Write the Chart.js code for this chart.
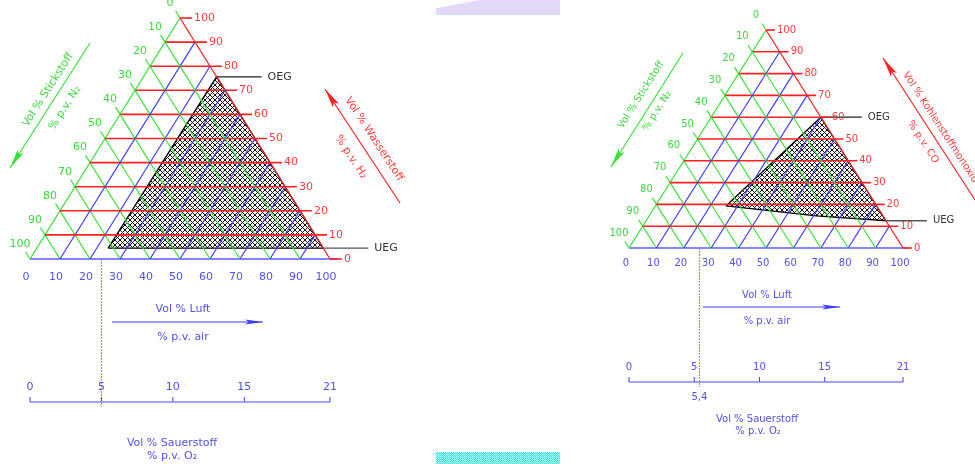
<!DOCTYPE html>
<html>
<head>
<meta charset="utf-8">
<script src="https://cdn.jsdelivr.net/npm/chart.js@4.4.1/dist/chart.umd.min.js"></script>
<style>
  html, body { margin: 0; padding: 0; background: #fff; }
  body { width: 975px; height: 464px; position: relative; overflow: hidden; }
  canvas { position: absolute; top: 0; }
  #links { left: 0; }
  #rechts { left: 487px; }
  .fleck { position: absolute; z-index: 2; }
  #fleckOben { left: 436px; top: 0; width: 124px; height: 15px;
    background: repeating-conic-gradient(#f0c4f4 0 25%, #d6ecfa 0 50%) 0 0/2px 2px;
    clip-path: polygon(0 55%, 35% 0, 100% 0, 100% 100%, 0 100%); }
  #fleckUnten { left: 436px; top: 452px; width: 124px; height: 12px;
    background: repeating-conic-gradient(#2ee8e2 0 25%, #c0fbf4 0 50%) 0 0/2px 2px; }
</style>
</head>
<body>
<canvas id="links" width="487" height="464"></canvas>
<canvas id="rechts" width="488" height="464"></canvas>
<div class="fleck" id="fleckOben"></div>
<div class="fleck" id="fleckUnten"></div>
<script>
// Teilung der drei Dreiecksachsen (Vol %)
const achsTicks = [0, 10, 20, 30, 40, 50, 60, 70, 80, 90, 100];
const achsLabels = ['0', '10', '20', '30', '40', '50', '60', '70', '80', '90', '100'];

// Sauerstoffskala unter dem Dreieck (Vol % O2, 21 % = 100 % Luft)
const o2Ticks = [0, 5, 10, 15, 21];
const o2Labels = ['0', '5', '10', '15', '21'];

// Explosionsbereich Wasserstoff: Luft- und H2-Anteil der Eckpunkte
const h2Luft = [23.8, 95.5, 24.4];
const h2Gas = [4.5, 4.5, 75.6];
const h2O2Grenze = 5;

// Explosionsbereich Kohlenstoffmonoxid: Luft- und CO-Anteil der Eckpunkte
const coLuft = [25.7, 61, 87.5, 40];
const coGas = [19.3, 14.7, 12.5, 60];
const coO2Grenze = 5.4;

// Farben
const rotLinie = '#ff2020', gruenLinie = '#38e238', blauLinie = '#3c3cff', basisLinie = '#8484ff';
const rotText = '#ff3a3a', gruenText = '#3cd83c', blauText = '#5050ee';

// Luft / Brenngas -> x,y im Dreieck (x = Grundlinie 0..100, y = Gasanteil)
function tern(luft, gas) {
  return { x: luft + gas / 2, y: gas };
}

function linie(pts, farbe, breite, extra) {
  return Object.assign({
    data: pts, borderColor: farbe, borderWidth: breite, showLine: true,
    pointRadius: 0, fill: false, tension: 0, order: 1
  }, extra || {});
}

// Kreuzschraffur, pixelgenau
function schraffur() {
  const c = document.createElement('canvas');
  c.width = 5; c.height = 5;
  const g = c.getContext('2d');
  g.fillStyle = '#101010';
  for (let i = 0; i < 5; i++) {
    g.fillRect(i, i, 1, 1);
    g.fillRect(i, 4 - i, 1, 1);
  }
  return g.createPattern(c, 'repeat');
}

// Lage der beiden Diagramme auf der Seite
const layLinks = {
  left: 0, w: 487, h: 464, baseL: 30, baseR: 330, baseY: 259, apexY: 18, o2Y: 402,
  schrift: 11, baseDx: -4, baseDy: 18, rotDx: 14, rotExt: 12, egLen: 45,
  luft: h2Luft, gas: h2Gas, o2Grenze: h2O2Grenze, o2GrenzText: null, hilfslinien: false,
  pfeile: [
    { von: [90, 43], nach: [10, 168], farbe: gruenLinie, lang: 20, breit: 3.5 },
    { von: [400, 203], nach: [325, 89], farbe: rotLinie, lang: 20, breit: 3.5 },
    { von: [112, 322], nach: [263, 322], farbe: blauLinie, lang: 18, breit: 2.5 }
  ],
  texte: [
    { t: 'Vol % Stickstoff', x: 48, y: 90, f: gruenText, w: -57.4 },
    { t: '% p.v. N₂', x: 65, y: 108, f: gruenText, w: -57.4 },
    { t: 'Vol % Wasserstoff', x: 374, y: 139, f: rotText, w: 56.7 },
    { t: '% p.v. H₂', x: 351, y: 157, f: rotText, w: 56.7 },
    { t: 'Vol % Luft', x: 183, y: 309, f: blauText, w: 0 },
    { t: '% p.v. air', x: 183, y: 337, f: blauText, w: 0 },
    { t: 'Vol % Sauerstoff', x: 172, y: 443, f: blauText, w: 0 },
    { t: '% p.v. O₂', x: 172, y: 456, f: blauText, w: 0 }
  ]
};

const layRechts = {
  left: 487, w: 488, h: 464, baseL: 629, baseR: 903, baseY: 248, apexY: 30, o2Y: 382,
  schrift: 10, baseDx: -3, baseDy: 15, rotDx: 11, rotExt: 9, egLen: 41,
  luft: coLuft, gas: coGas, o2Grenze: coO2Grenze, o2GrenzText: '5,4', hilfslinien: true,
  pfeile: [
    { von: [683, 53], nach: [611, 167], farbe: gruenLinie, lang: 20, breit: 3.5 },
    { von: [975, 200], nach: [883, 58], farbe: rotLinie, lang: 20, breit: 3.5 },
    { von: [703, 307], nach: [840, 307], farbe: blauLinie, lang: 18, breit: 2.5 }
  ],
  texte: [
    { t: 'Vol % Stickstoff', x: 641, y: 95, f: gruenText, w: -57.7 },
    { t: '% p.v. N₂', x: 657, y: 111, f: gruenText, w: -57.7 },
    { t: 'Vol % Kohlenstoffmonoxid', x: 905, y: 73, f: rotText, w: 57, a: 'left' },
    { t: '% p.v. CO', x: 923, y: 142, f: rotText, w: 57 },
    { t: 'Vol % Luft', x: 767, y: 295, f: blauText, w: 0 },
    { t: '% p.v. air', x: 767, y: 321, f: blauText, w: 0 },
    { t: 'Vol % Sauerstoff', x: 757, y: 419, f: blauText, w: 0 },
    { t: '% p.v. O₂', x: 758, y: 431, f: blauText, w: 0 }
  ]
};

function diagramm(id, lay) {
  const kx = (lay.baseR - lay.baseL) / 100;
  const ky = (lay.baseY - lay.apexY) / 100;
  const xMin = -(lay.baseL - lay.left) / kx, xMax = xMin + lay.w / kx;
  const yMax = 100 + lay.apexY / ky, yMin = yMax - lay.h / ky;
  const o2Yd = yMax - lay.o2Y / ky;
  const ext = lay.rotExt / kx;
  const o2x = o2 => o2 / 21 * 100;

  const ds = [];
  // Explosionsbereich
  const bereich = lay.luft.map((l, i) => tern(l, lay.gas[i]));
  ds.push({
    data: bereich.concat([bereich[0]]), borderColor: '#000', borderWidth: 1.3,
    backgroundColor: schraffur(), fill: 'shape', showLine: true, pointRadius: 0, tension: 0, order: 5
  });

  // Hilfslinien durch den linken Eckpunkt
  if (lay.hilfslinien) {
    const n = 100 - lay.luft[0] - lay.gas[0];
    const opt = { borderDash: [2, 2], order: 3 };
    ds.push(linie([tern(0, 100 - n), tern(100 - n, 0)], '#cfcfcf', 1, opt));
    ds.push(linie([tern(lay.luft[0], 0), tern(lay.luft[0], 60)], '#cfcfcf', 1, opt));
  }

  achsTicks.forEach(v => {
    // Brenngas konstant (rot, waagerecht)
    const re = tern(100 - v, v);
    const st = (v > 0 && v < 100) ? tern(0, v) : re;
    ds.push(linie([st, { x: re.x + ext, y: v }], rotLinie, 1.6));
    // Stickstoff konstant (gruen)
    const aussen = tern(-3, 103 - v);
    const ende = (v > 0 && v < 100) ? tern(100 - v, 0) : tern(0, 100 - v);
    ds.push(linie([aussen, ende], gruenLinie, 1.2));
    // Luft konstant (blau)
    if (v > 0 && v < 100) ds.push(linie([tern(v, 0), tern(v, 100 - v)], blauLinie, 1.2));
  });
  ds.push(linie([tern(0, 0), tern(0, 100)], gruenLinie, 1.3));
  ds.push(linie([tern(0, 100), tern(100, 0)], rotLinie, 1.3));
  ds.push(linie([tern(0, 0), { x: 100 + ext * 0.6, y: 0 }], basisLinie, 2.2));

  // OEG / UEG
  const oben = bereich[bereich.length - 1], unten = bereich[bereich.length - 2];
  const egU = lay.egLen / kx;
  ds.push(linie([oben, { x: oben.x + egU, y: oben.y }], '#222', 1.2));
  ds.push(linie([unten, { x: unten.x + egU, y: unten.y }], '#555', 1.4));

  // Sauerstoffskala
  ds.push(linie([{ x: 0, y: o2Yd }, { x: 100, y: o2Yd }], basisLinie, 1.5));
  o2Ticks.forEach(o => {
    ds.push(linie([{ x: o2x(o), y: o2Yd }, { x: o2x(o), y: o2Yd + 5 / ky }], blauLinie, 1));
  });
  // Grenzlinie Sauerstoff
  const gx = o2x(lay.o2Grenze);
  ds.push(linie([{ x: gx, y: 0 }, { x: gx, y: o2Yd - 5 / ky }], '#a89a6a', 1.2, { borderDash: [2, 1], order: 2 }));

  const deko = {
    id: 'deko',
    afterDatasetsDraw(chart) {
      const { ctx, scales: { x, y } } = chart;
      const px = p => [x.getPixelForValue(p.x), y.getPixelForValue(p.y)];
      ctx.save();
      ctx.font = lay.schrift + 'px "DejaVu Sans"';
      ctx.textBaseline = 'middle';

      // Luft (Grundlinie)
      ctx.fillStyle = blauText; ctx.textAlign = 'center';
      achsTicks.forEach((v, i) => {
        const [X, Y] = px(tern(v, 0));
        ctx.fillText(achsLabels[i], X + lay.baseDx, Y + lay.baseDy);
      });
      // Brenngas (rechte Seite)
      ctx.fillStyle = rotText; ctx.textAlign = 'left';
      achsTicks.forEach((v, i) => {
        const [X, Y] = px(tern(100 - v, v));
        ctx.fillText(achsLabels[i], X + lay.rotDx, Y);
      });
      // Stickstoff (linke Seite)
      ctx.fillStyle = gruenText; ctx.textAlign = 'center';
      achsTicks.forEach((v, i) => {
        const [X, Y] = px(tern(0, 100 - v));
        ctx.fillText(achsLabels[i], X - 10, Y - 15);
      });
      // Sauerstoff
      ctx.fillStyle = blauText;
      o2Ticks.forEach((o, i) => {
        const [X, Y] = px({ x: o2x(o), y: o2Yd });
        ctx.fillText(o2Labels[i], X, Y - 15);
      });
      if (lay.o2GrenzText) {
        const [X, Y] = px({ x: gx, y: o2Yd });
        ctx.fillText(lay.o2GrenzText, X, Y + 15);
      }
      // OEG / UEG
      ctx.fillStyle = '#333'; ctx.textAlign = 'left';
      let [X, Y] = px(oben);
      ctx.fillText('OEG', X + lay.egLen + 6, Y);
      [X, Y] = px(unten);
      ctx.fillText('UEG', X + lay.egLen + 6, Y);

      // Pfeile
      lay.pfeile.forEach(p => {
        const x0 = p.von[0] - lay.left, y0 = p.von[1], x1 = p.nach[0] - lay.left, y1 = p.nach[1];
        const d = Math.hypot(x1 - x0, y1 - y0), ux = (x1 - x0) / d, uy = (y1 - y0) / d;
        ctx.strokeStyle = p.farbe; ctx.fillStyle = p.farbe; ctx.lineWidth = 1.2;
        ctx.beginPath(); ctx.moveTo(x0, y0); ctx.lineTo(x1, y1); ctx.stroke();
        const bx = x1 - ux * p.lang, by = y1 - uy * p.lang;
        ctx.beginPath();
        ctx.moveTo(x1, y1);
        ctx.lineTo(bx - uy * p.breit, by + ux * p.breit);
        ctx.lineTo(bx + ux * 4, by + uy * 4);
        ctx.lineTo(bx + uy * p.breit, by - ux * p.breit);
        ctx.closePath(); ctx.fill();
      });
      // Achsentitel
      lay.texte.forEach(t => {
        ctx.save();
        ctx.translate(t.x - lay.left, t.y);
        ctx.rotate(t.w * Math.PI / 180);
        ctx.fillStyle = t.f;
        ctx.textAlign = t.a || 'center';
        ctx.fillText(t.t, 0, 0);
        ctx.restore();
      });
      ctx.restore();
    }
  };

  return new Chart(document.getElementById(id), {
    type: 'scatter',
    data: { datasets: ds },
    options: {
      responsive: false, animation: false, events: [],
      layout: { padding: 0 },
      scales: {
        x: { type: 'linear', min: xMin, max: xMax, display: false },
        y: { type: 'linear', min: yMin, max: yMax, display: false }
      },
      plugins: { legend: { display: false }, tooltip: { enabled: false } }
    },
    plugins: [deko]
  });
}

diagramm('links', layLinks);
diagramm('rechts', layRechts);
</script>
</body>
</html>
